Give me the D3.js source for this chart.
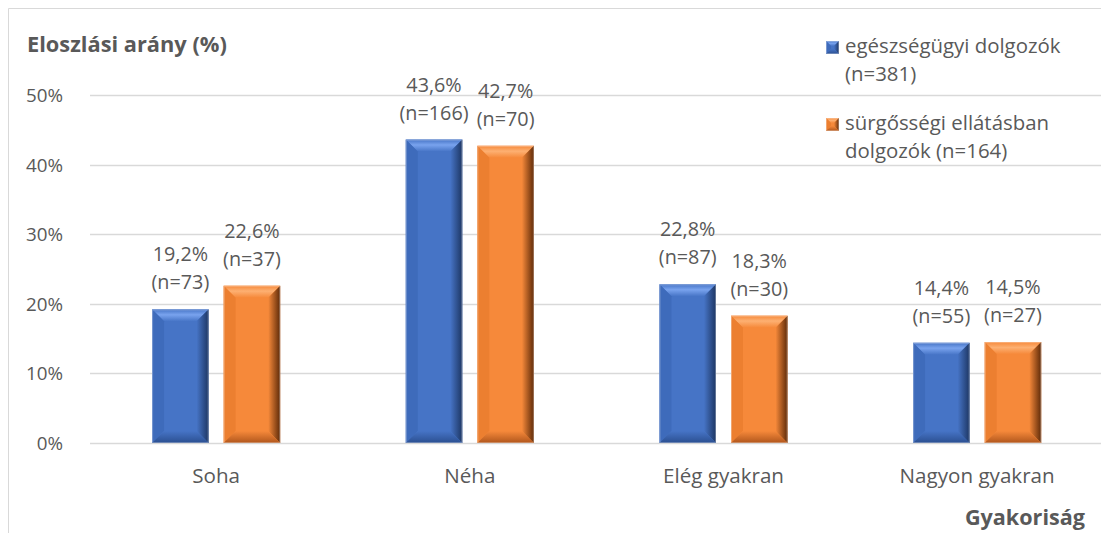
<!DOCTYPE html>
<html>
<head>
<meta charset="utf-8">
<script src="https://cdn.jsdelivr.net/npm/d3@7"></script>
<style>
  body { margin: 0; background: #fff; }
  svg { font-family: "Open Sans", Lato, sans-serif; }
</style>
</head>
<body>
<svg id="chart" width="1101" height="533"></svg>
<script>
let categories = ["Soha", "Néha", "Elég gyakran", "Nagyon gyakran"]
let series = ["egészségügyi dolgozók", "sürgősségi ellátásban dolgozók"]
let healthWorkers = [0.192, 0.436, 0.228, 0.144]
let healthN = [73, 166, 87, 55]
let emergencyWorkers = [0.226, 0.427, 0.183, 0.145]
let emergencyN = [37, 70, 30, 27]
let yTicks = [0, 0.1, 0.2, 0.3, 0.4, 0.5]
let legendLines = [["egészségügyi dolgozók", "(n=381)"], ["sürgősségi ellátásban", "dolgozók (n=164)"]]

let colors = {
  "egészségügyi dolgozók": {id: "b", face: "#4674c6", top: "#79a3ee", left: "#3e6bbb", right: "#1d3663", bottom: "#2b4f90"},
  "sürgősségi ellátásban dolgozók": {id: "o", face: "#f6893a", top: "#fdb072", left: "#ec7f30", right: "#5e2a08", bottom: "#b0561c"}
}

let rows = categories.map((c, i) => ({
  cat: c,
  vals: [
    {s: series[0], v: healthWorkers[i], n: healthN[i]},
    {s: series[1], v: emergencyWorkers[i], n: emergencyN[i]}
  ]
}))

let svg = d3.select("#chart")
let textCol = "#595959"

// gradients for the bevel sides
let defs = svg.append("defs")
Object.values(colors).forEach(c => {
  let gr = defs.append("linearGradient").attr("id", c.id + "-right").attr("x1", 0).attr("x2", 1).attr("y1", 0).attr("y2", 0)
  gr.append("stop").attr("offset", "0%").attr("stop-color", c.face)
  gr.append("stop").attr("offset", "100%").attr("stop-color", c.right)
  let gt = defs.append("linearGradient").attr("id", c.id + "-top").attr("x1", 0).attr("x2", 0).attr("y1", 0).attr("y2", 1)
  gt.append("stop").attr("offset", "0%").attr("stop-color", c.face)
  gt.append("stop").attr("offset", "45%").attr("stop-color", c.top)
  gt.append("stop").attr("offset", "100%").attr("stop-color", c.face)
  let gb = defs.append("linearGradient").attr("id", c.id + "-bottom").attr("x1", 0).attr("x2", 0).attr("y1", 0).attr("y2", 1)
  gb.append("stop").attr("offset", "0%").attr("stop-color", c.face)
  gb.append("stop").attr("offset", "100%").attr("stop-color", c.bottom)
})

// frame
svg.append("path").attr("d", "M8.5,533 V8.5 H1101")
  .attr("fill", "none").attr("stroke", "#d9d9d9").attr("stroke-width", 1)

let y = d3.scaleLinear().domain([0, 0.5]).range([443, 95])
let x0 = d3.scaleBand().domain(categories).range([89.3, 1104]).paddingInner(0.495).paddingOuter(0.2475)
let x1 = d3.scaleBand().domain(series).range([0, x0.bandwidth()]).paddingInner(0.21)

// gridlines
svg.selectAll("line.grid").data(yTicks).enter().append("line")
  .attr("class", "grid")
  .attr("x1", 90).attr("x2", 1101)
  .attr("y1", d => Math.round(y(d)) + 0.5).attr("y2", d => Math.round(y(d)) + 0.5)
  .attr("stroke", "#d9d9d9").attr("stroke-width", 1.3)

// y axis labels
svg.selectAll("text.ytick").data(yTicks).enter().append("text")
  .attr("class", "ytick")
  .attr("x", 63).attr("y", d => y(d) + 7)
  .attr("text-anchor", "end").attr("font-size", 18.8).attr("fill", textCol)
  .text(d => Math.round(d * 100) + "%")

// category labels
svg.selectAll("text.xtick").data(categories).enter().append("text")
  .attr("class", "xtick")
  .attr("x", d => x0(d) + x0.bandwidth() / 2).attr("y", 483)
  .attr("text-anchor", "middle").attr("font-size", 20.6).attr("fill", textCol)
  .text(d => d)

// bevelled bar
function bevel(g, x, yTop, w, h, c, b) {
  let x2 = x + w, yB = yTop + h
  b = Math.min(b, w / 2, h / 2)
  g.append("rect").attr("x", x).attr("y", yTop).attr("width", w).attr("height", h).attr("fill", c.face)
  let polys = [
    {pts: [[x, yTop], [x2, yTop], [x2 - b, yTop + b], [x + b, yTop + b]], f: "url(#" + c.id + "-top)"},
    {pts: [[x, yTop], [x + b, yTop + b], [x + b, yB - b], [x, yB]], f: c.left},
    {pts: [[x2, yTop], [x2, yB], [x2 - b, yB - b], [x2 - b, yTop + b]], f: "url(#" + c.id + "-right)"},
    {pts: [[x, yB], [x + b, yB - b], [x2 - b, yB - b], [x2, yB]], f: "url(#" + c.id + "-bottom)"}
  ]
  polys.forEach(p => {
    g.append("polygon").attr("points", p.pts.map(q => q.join(",")).join(" ")).attr("fill", p.f)
  })
  g.append("rect").attr("x", x + 0.5).attr("y", yTop + 0.5).attr("width", w - 1).attr("height", h - 1)
    .attr("fill", "none").attr("stroke", "#ffffff").attr("stroke-opacity", 0.3).attr("stroke-width", 1)
}

let groups = svg.selectAll("g.cat").data(rows).enter().append("g")
  .attr("class", "cat")
  .attr("transform", d => "translate(" + x0(d.cat) + ",0)")

groups.each(function (d) {
  let g = d3.select(this)
  d.vals.forEach(v => {
    let bx = x1(v.s), bw = x1.bandwidth()
    let top = y(v.v)
    bevel(g.append("g"), bx, top, bw, y(0) - top, colors[v.s], 12)
    let t = g.append("text").attr("text-anchor", "middle").attr("font-size", 19.8).attr("fill", textCol)
    t.append("tspan").attr("x", bx + bw / 2).attr("y", top - 48)
      .text((v.v * 100).toFixed(1).replace(".", ",") + "%")
    t.append("tspan").attr("x", bx + bw / 2).attr("y", top - 20)
      .text("(n=" + v.n + ")")
  })
})

// axis titles
svg.append("text").attr("x", 27).attr("y", 52).attr("font-size", 21.8).attr("font-weight", "bold")
  .attr("fill", textCol).text("Eloszlási arány (%)")
svg.append("text").attr("x", 1085).attr("y", 525).attr("text-anchor", "end").attr("font-size", 21.6)
  .attr("font-weight", "bold").attr("fill", textCol).text("Gyakoriság")

// legend
let legend = svg.append("g")
legendLines.forEach((lines, i) => {
  let ly = 47 + i * 77
  let c = colors[series[i]]
  bevel(legend.append("g"), 826, ly - 6, 13, 13, c, 5)
  let t = legend.append("text").attr("font-size", 20.4).attr("fill", textCol)
  lines.forEach((l, j) => {
    t.append("tspan").attr("x", 845).attr("y", ly + 6 + j * 28).text(l)
  })
})
</script>
</body>
</html>
